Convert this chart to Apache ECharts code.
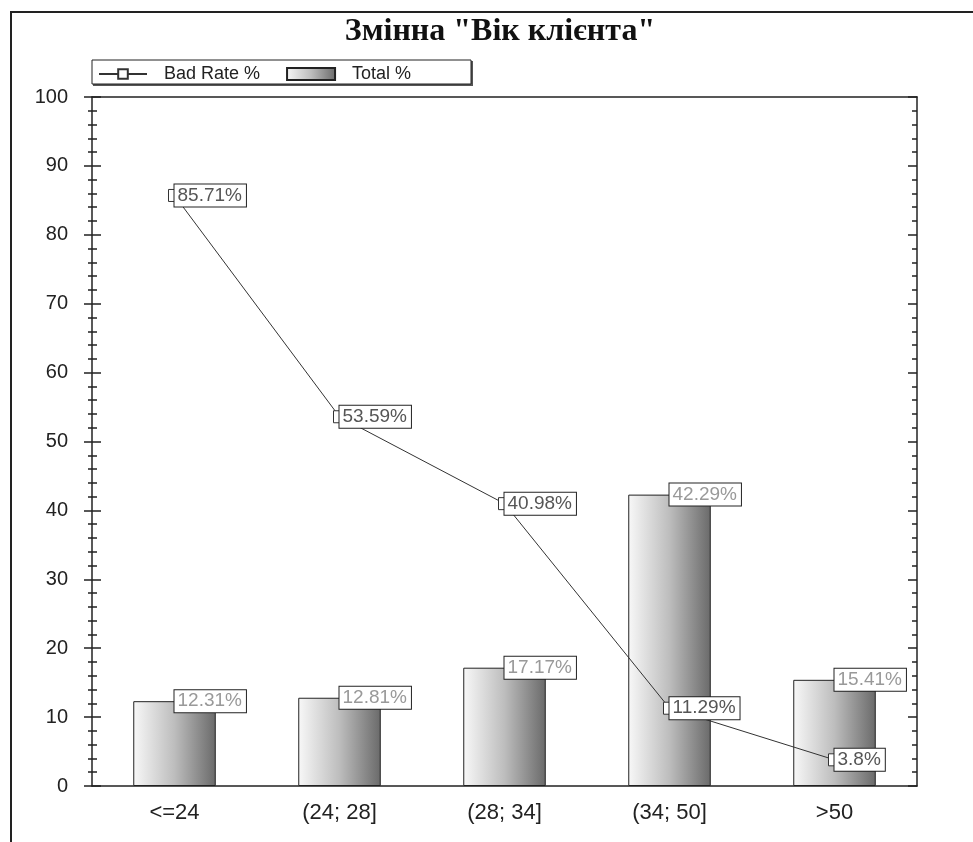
<!DOCTYPE html>
<html>
<head>
<meta charset="utf-8">
<script src="https://cdn.jsdelivr.net/npm/echarts@6/dist/echarts.min.js"></script>
<style>
  html, body { margin: 0; padding: 0; background: #fff; }
  #chart { width: 973px; height: 842px; }
</style>
</head>
<body>
<div id="chart"></div>
<script>
// Age bands of the client
const categories = ['<=24', '(24; 28]', '(28; 34]', '(34; 50]', '>50'];
// Share of bad clients within each band, %
const badRate = [85.71, 53.59, 40.98, 11.29, 3.8];
// Share of all clients falling into each band, %
const totalShare = [12.31, 12.81, 17.17, 42.29, 15.41];
const seriesNames = ['Bad Rate %', 'Total %'];
const titleText = 'Змінна "Вік клієнта"';

const FONT = "'Liberation Sans', Arial, sans-serif";
const INK = '#222';

const barGradient = new echarts.graphic.LinearGradient(0, 0, 1, 0, [
  { offset: 0, color: '#f8f8f8' },
  { offset: 0.5, color: '#bdbdbd' },
  { offset: 1, color: '#6a6a6a' }
]);

const valueLabelBox = {
  show: true,
  formatter: '{c}%',
  align: 'left',
  verticalAlign: 'middle',
  fontFamily: FONT,
  fontSize: 19,
  backgroundColor: '#fff',
  borderColor: INK,
  borderWidth: 1,
  padding: [2, 4, 1, 3]
};

const plotBox = { left: 92, right: 56, top: 97, bottom: 56 };
const tickLine = { color: INK, width: 1.5 };

const chart = echarts.init(document.getElementById('chart'), null, { renderer: 'canvas' });

chart.setOption({
  backgroundColor: '#fff',
  animation: false,
  graphic: [
    // chart title
    {
      type: 'text', silent: true, x: 500, y: 32,
      style: {
        text: titleText, align: 'center', verticalAlign: 'middle',
        font: "bold 32px 'Liberation Serif', 'Times New Roman', serif", fill: '#111'
      }
    },
    // outer frame
    { type: 'polyline', silent: true, shape: { points: [[11, 842], [11, 12], [973, 12]] }, style: { stroke: INK, lineWidth: 2, fill: null } },
    // legend frame with a slight shadow
    { type: 'rect', silent: true, z: 0, shape: { x: 93, y: 61, width: 380, height: 25 }, style: { fill: '#555' } },
    { type: 'rect', silent: true, z: 1, shape: { x: 92, y: 60, width: 379, height: 24 }, style: { fill: '#fff', stroke: INK, lineWidth: 1 } }
  ],
  legend: {
    data: [
      { name: seriesNames[0] },
      { name: seriesNames[1], icon: 'rect' }
    ],
    left: 98,
    top: 65,
    padding: 0,
    itemWidth: 48,
    itemHeight: 12,
    itemGap: 26,
    z: 5,
    textStyle: { fontFamily: FONT, fontSize: 18, color: INK, padding: [0, 0, 0, 12] }
  },
  // two grids sharing one box: the second only carries the inner half of the crossing ticks
  grid: [plotBox, Object.assign({}, plotBox)],
  xAxis: [
    {
      gridIndex: 0, type: 'category', data: categories, position: 'bottom',
      axisLine: { onZero: false, lineStyle: tickLine },
      axisTick: { alignWithLabel: true, length: 9, lineStyle: tickLine },
      axisLabel: { fontFamily: FONT, fontSize: 22, color: INK, margin: 16 },
      splitLine: { show: false }
    },
    {
      gridIndex: 0, type: 'category', data: categories, position: 'top',
      axisLine: { onZero: false, lineStyle: tickLine },
      axisTick: { inside: true, alignWithLabel: true, length: 8, lineStyle: tickLine },
      axisLabel: { show: false }, splitLine: { show: false }
    },
    {
      gridIndex: 1, type: 'category', data: categories, position: 'bottom',
      axisLine: { show: false, onZero: false },
      axisTick: { inside: true, alignWithLabel: true, length: 9, lineStyle: tickLine },
      axisLabel: { show: false }, splitLine: { show: false }
    }
  ],
  yAxis: [
    {
      gridIndex: 0, type: 'value', min: 0, max: 100, interval: 10, position: 'left',
      axisLine: { show: true, onZero: false, lineStyle: tickLine },
      axisTick: { show: true, length: 8, lineStyle: tickLine },
      minorTick: { show: true, splitNumber: 5, length: 4, lineStyle: tickLine },
      axisLabel: { fontFamily: FONT, fontSize: 20, color: INK, margin: 24 },
      splitLine: { show: false }
    },
    {
      gridIndex: 0, type: 'value', min: 0, max: 100, interval: 10, position: 'right',
      axisLine: { show: true, onZero: false, lineStyle: tickLine },
      axisTick: { show: true, inside: true, length: 9, lineStyle: tickLine },
      minorTick: { show: true, splitNumber: 5, length: 5, lineStyle: tickLine },
      axisLabel: { show: false }, splitLine: { show: false }
    },
    {
      gridIndex: 1, type: 'value', min: 0, max: 100, interval: 10, position: 'left',
      axisLine: { show: false, onZero: false },
      axisTick: { show: true, inside: true, length: 9, lineStyle: tickLine },
      minorTick: { show: true, splitNumber: 5, length: 5, lineStyle: tickLine },
      axisLabel: { show: false }, splitLine: { show: false }
    }
  ],
  series: [
    {
      name: seriesNames[0],
      type: 'line',
      xAxisIndex: 0, yAxisIndex: 0,
      data: badRate,
      z: 4,
      symbol: 'rect',
      symbolSize: 12,
      showAllSymbol: true,
      color: '#333',
      lineStyle: { color: '#333', width: 1 },
      itemStyle: { color: '#fff', borderColor: '#333', borderWidth: 1 },
      label: Object.assign({}, valueLabelBox, { position: ['50%', '50%'], color: '#555' })
    },
    {
      name: seriesNames[1],
      type: 'bar',
      xAxisIndex: 0, yAxisIndex: 0,
      data: totalShare,
      z: 2,
      barWidth: '50%',
      itemStyle: { color: barGradient, borderColor: INK, borderWidth: 1 },
      label: Object.assign({}, valueLabelBox, { position: ['50%', 0], color: '#999' })
    }
  ]
});
</script>
</body>
</html>
